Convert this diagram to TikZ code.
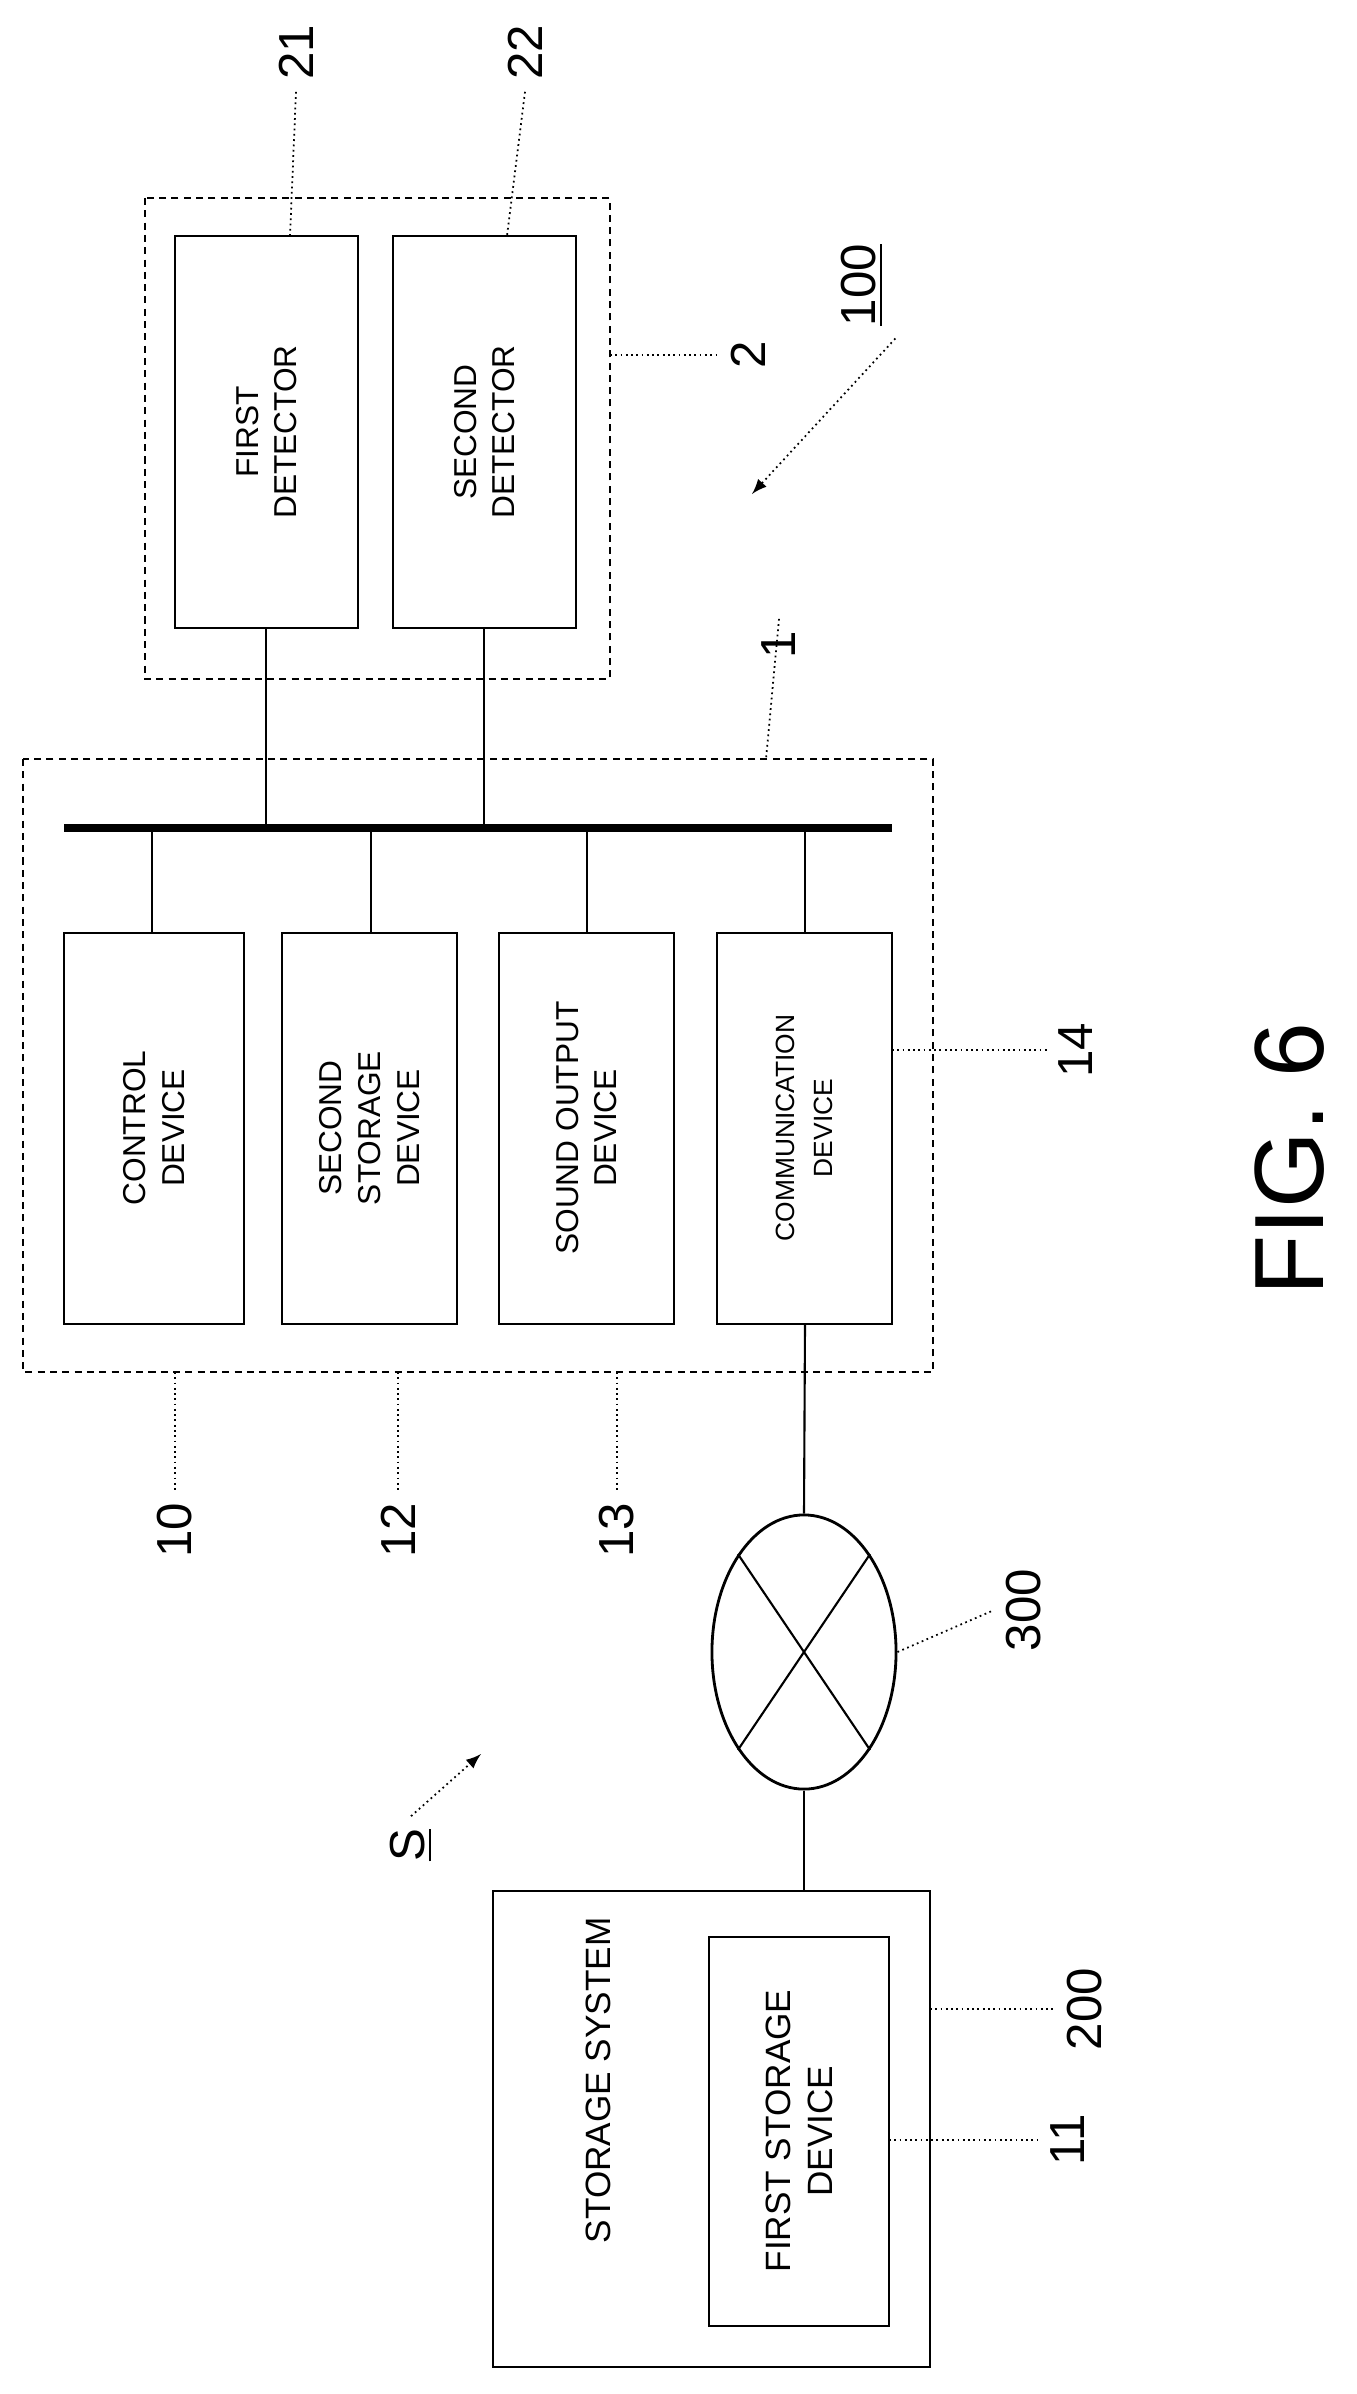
\documentclass[tikz,border=0pt]{standalone}
\usepackage{fontspec}
\setmainfont{Liberation Sans}
\usetikzlibrary{shapes.geometric,positioning}

\begin{document}
\begin{tikzpicture}[x=0.01cm, y=-0.01cm,
    box/.style={rectangle, draw, line width=0.8pt},
    dashbox/.style={rectangle, draw, dash pattern=on 2pt off 1.5pt, line width=0.6pt},
    txt/.style={rotate=90, align=center, font=\fontsize{9}{11}\selectfont},
    lbl/.style={rotate=90, font=\fontsize{14}{14}\selectfont},
    line/.style={draw, line width=0.6pt},
    lead/.style={draw, line width=0.5pt, densely dotted}
]
\useasboundingbox (0,0) rectangle (1356,2394);

% Detector unit
\draw [dashbox] (145,198) rectangle (610,679);
\draw [box] (175,236) rectangle (358,628);
\draw [box] (393,236) rectangle (576,628);
\node [txt] (det1) at (266.5,432) {FIRST\\DETECTOR};
\node [txt] (det2) at (484.5,432) {SECOND\\DETECTOR};
\coordinate (d1b) at (266,628);
\coordinate (d2b) at (484,628);

% Main unit with bus
\draw [dashbox] (23,759) rectangle (933,1372);
\coordinate (busl) at (64,828);
\coordinate (busr) at (892,828);
\draw [line width=2.4pt] (busl) -- (busr);
\draw [box] (64,933) rectangle (244,1324);
\draw [box] (282,933) rectangle (457,1324);
\draw [box] (499,933) rectangle (674,1324);
\draw [box] (717,933) rectangle (892,1324);
\node [txt] (ctrl) at (154,1128) {CONTROL\\DEVICE};
\node [txt] (stor2) at (369.5,1128) {SECOND\\STORAGE\\DEVICE};
\node [txt] (sound) at (586.5,1128) {SOUND OUTPUT\\DEVICE};
\node [txt, font=\fontsize{7.5}{11}\selectfont] (comm) at (804.5,1128) {COMMUNICATION\\DEVICE};

% Bus connections
\foreach \x/\t in {152/933,371/933,587/933,805/933}
    \draw [line] (\x,828) -- (\x,\t);
\draw [line] (d1b) -- (266,828);
\draw [line] (d2b) -- (484,828);

% Network
\node [ellipse, draw, line width=0.8pt, inner sep=0pt, minimum width=1.84cm, minimum height=2.74cm] (net) at (804,1652) {};
\draw [line] (net.north west) -- (net.south east);
\draw [line] (net.north east) -- (net.south west);
\draw [line] (805,1324) -- (net.north);

% Storage system
\draw [box] (493,1891) rectangle (930,2367);
\draw [box] (709,1937) rectangle (889,2326);
\node [txt, font=\fontsize{10}{12}\selectfont, anchor=east] (ssys) at (598,1905) {STORAGE SYSTEM};
\node [txt, font=\fontsize{10}{12}\selectfont] (stor1) at (799,2131) {FIRST STORAGE\\DEVICE};
\coordinate (sstop) at (804,1891);
\draw [line] (net.south) -- (sstop);

% Reference labels
\node [lbl] (l21) at (296,52) {21};
\node [lbl] (l22) at (525,52) {22};
\node [lbl] (l2) at (748,355) {2};
\node [lbl] (l100) at (862,285) {\underline{100}};
\node [lbl] (l1) at (779,645) {1};
\node [lbl] (l14) at (1076,1050) {14};
\node [lbl] (l10) at (175,1530) {10};
\node [lbl] (l12) at (398,1530) {12};
\node [lbl] (l13) at (617,1530) {13};
\node [lbl] (l300) at (1024,1610) {300};
\node [lbl] (lS) at (411,1845) {\underline{S}};
\node [lbl] (l200) at (1085,2009) {200};
\node [lbl] (l11) at (1068,2140) {11};
\node [rotate=90, font=\fontsize{28}{28}\selectfont] (fig) at (1290,1159) {FIG. 6};

% Leader lines
\draw [lead] (l21.west) -- (290,236);
\draw [lead] (l22.west) -- (507,236);
\draw [lead] (610,355) -- (l2.north);
\draw [lead] (l1.east) -- (766,759);
\draw [lead] (892,1050) -- (l14.north);
\draw [lead] (175,1372) -- (l10.east);
\draw [lead] (398,1372) -- (l12.east);
\draw [lead] (617,1372) -- (l13.east);
\draw [lead] (net.east) -- (l300.north);
\draw [lead] (930,2009) -- (l200.north);
\draw [lead] (889,2140) -- (l11.north);
\draw [lead, -latex] (l100.south west) -- (752,494);
\draw [lead, -latex] (lS.east) -- (481,1754);

\end{tikzpicture}
\end{document}
